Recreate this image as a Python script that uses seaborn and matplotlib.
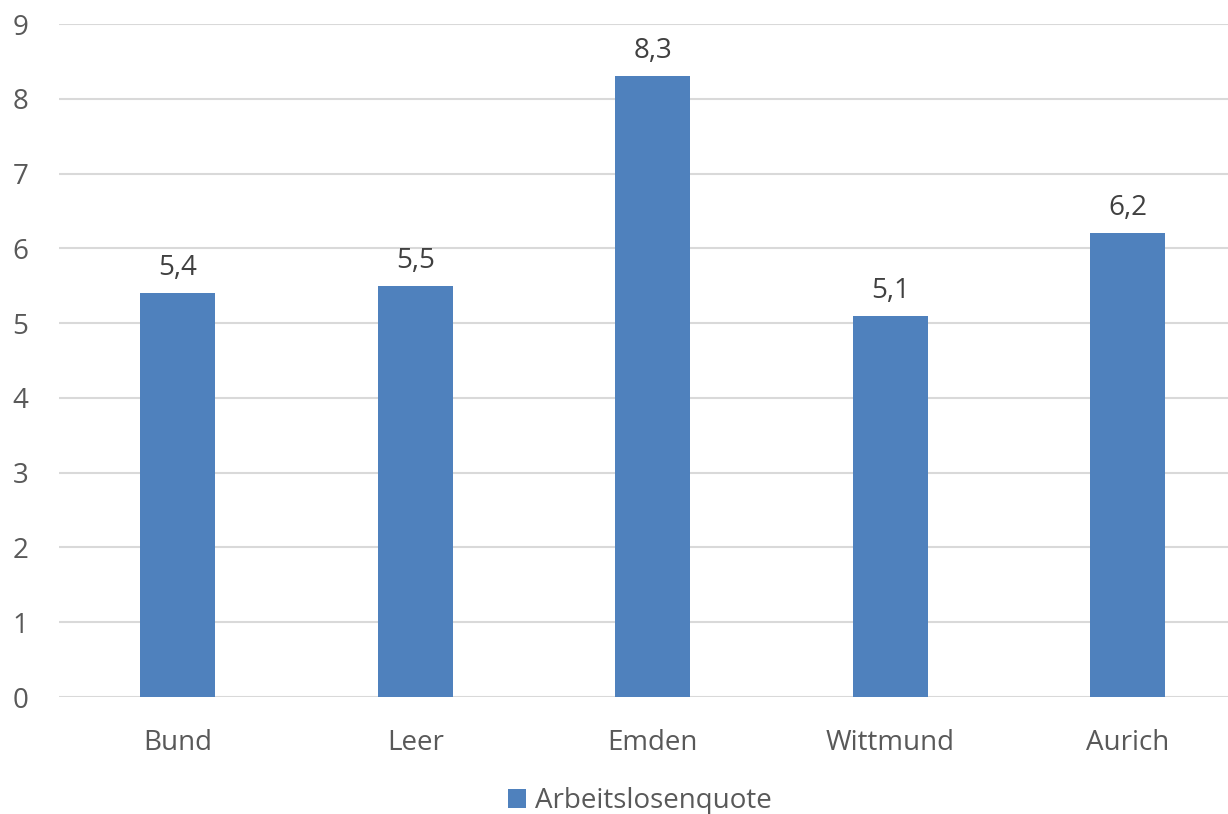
import matplotlib
matplotlib.use("Agg")
import matplotlib.pyplot as plt
import seaborn as sns
import pandas as pd

regions = ["Bund", "Leer", "Emden", "Wittmund", "Aurich"]
quote = [5.4, 5.5, 8.3, 5.1, 6.2]
series_name = "Arbeitslosenquote"
y_ticks = [0, 1, 2, 3, 4, 5, 6, 7, 8, 9]

df = pd.DataFrame({"region": regions, "quote": quote, "series": [series_name] * len(regions)})

sns.set_theme(style="white")
plt.rcParams["font.family"] = ["Open Sans", "DejaVu Sans"]

bar_color = "#4F81BD"
text_color = "#595959"
label_color = "#404040"

fig = plt.figure(figsize=(12.28, 8.14), dpi=100)
ax = fig.add_axes([59 / 1228, 0.1437, 1187.5 / 1228, 0.8268])

sns.barplot(data=df, x="region", y="quote", hue="series", palette=[bar_color],
            width=0.316, saturation=1, linewidth=0, ax=ax, legend=True)

ax.set_ylim(0, 9)
ax.set_xlim(-0.5, 4.5)
ax.set_yticks(y_ticks)
ax.set_yticklabels([str(t) for t in y_ticks])
ax.set_xlabel("")
ax.set_ylabel("")
ax.yaxis.grid(True, color="#D9D9D9", linewidth=1.5)
ax.set_axisbelow(True)
for s in ax.spines.values():
    s.set_visible(False)
ax.tick_params(axis="both", length=0, labelsize=20, labelcolor=text_color)
ax.tick_params(axis="y", pad=22)
ax.tick_params(axis="x", pad=23)

for cont in ax.containers:
    ax.bar_label(cont, labels=[f"{v:.1f}".replace(".", ",") for v in cont.datavalues],
                 padding=8, fontsize=20, color=label_color)

handles, labels = ax.get_legend_handles_labels()
if ax.get_legend() is not None:
    ax.get_legend().remove()
fig.legend(handles, labels, loc="center", bbox_to_anchor=(640 / 1228, 0.0155),
           bbox_transform=fig.transFigure, frameon=False, fontsize=20,
           labelcolor=text_color, handlelength=0.65, handleheight=0.65,
           handletextpad=0.33, borderpad=0)

fig.savefig("out.png", dpi=100)
